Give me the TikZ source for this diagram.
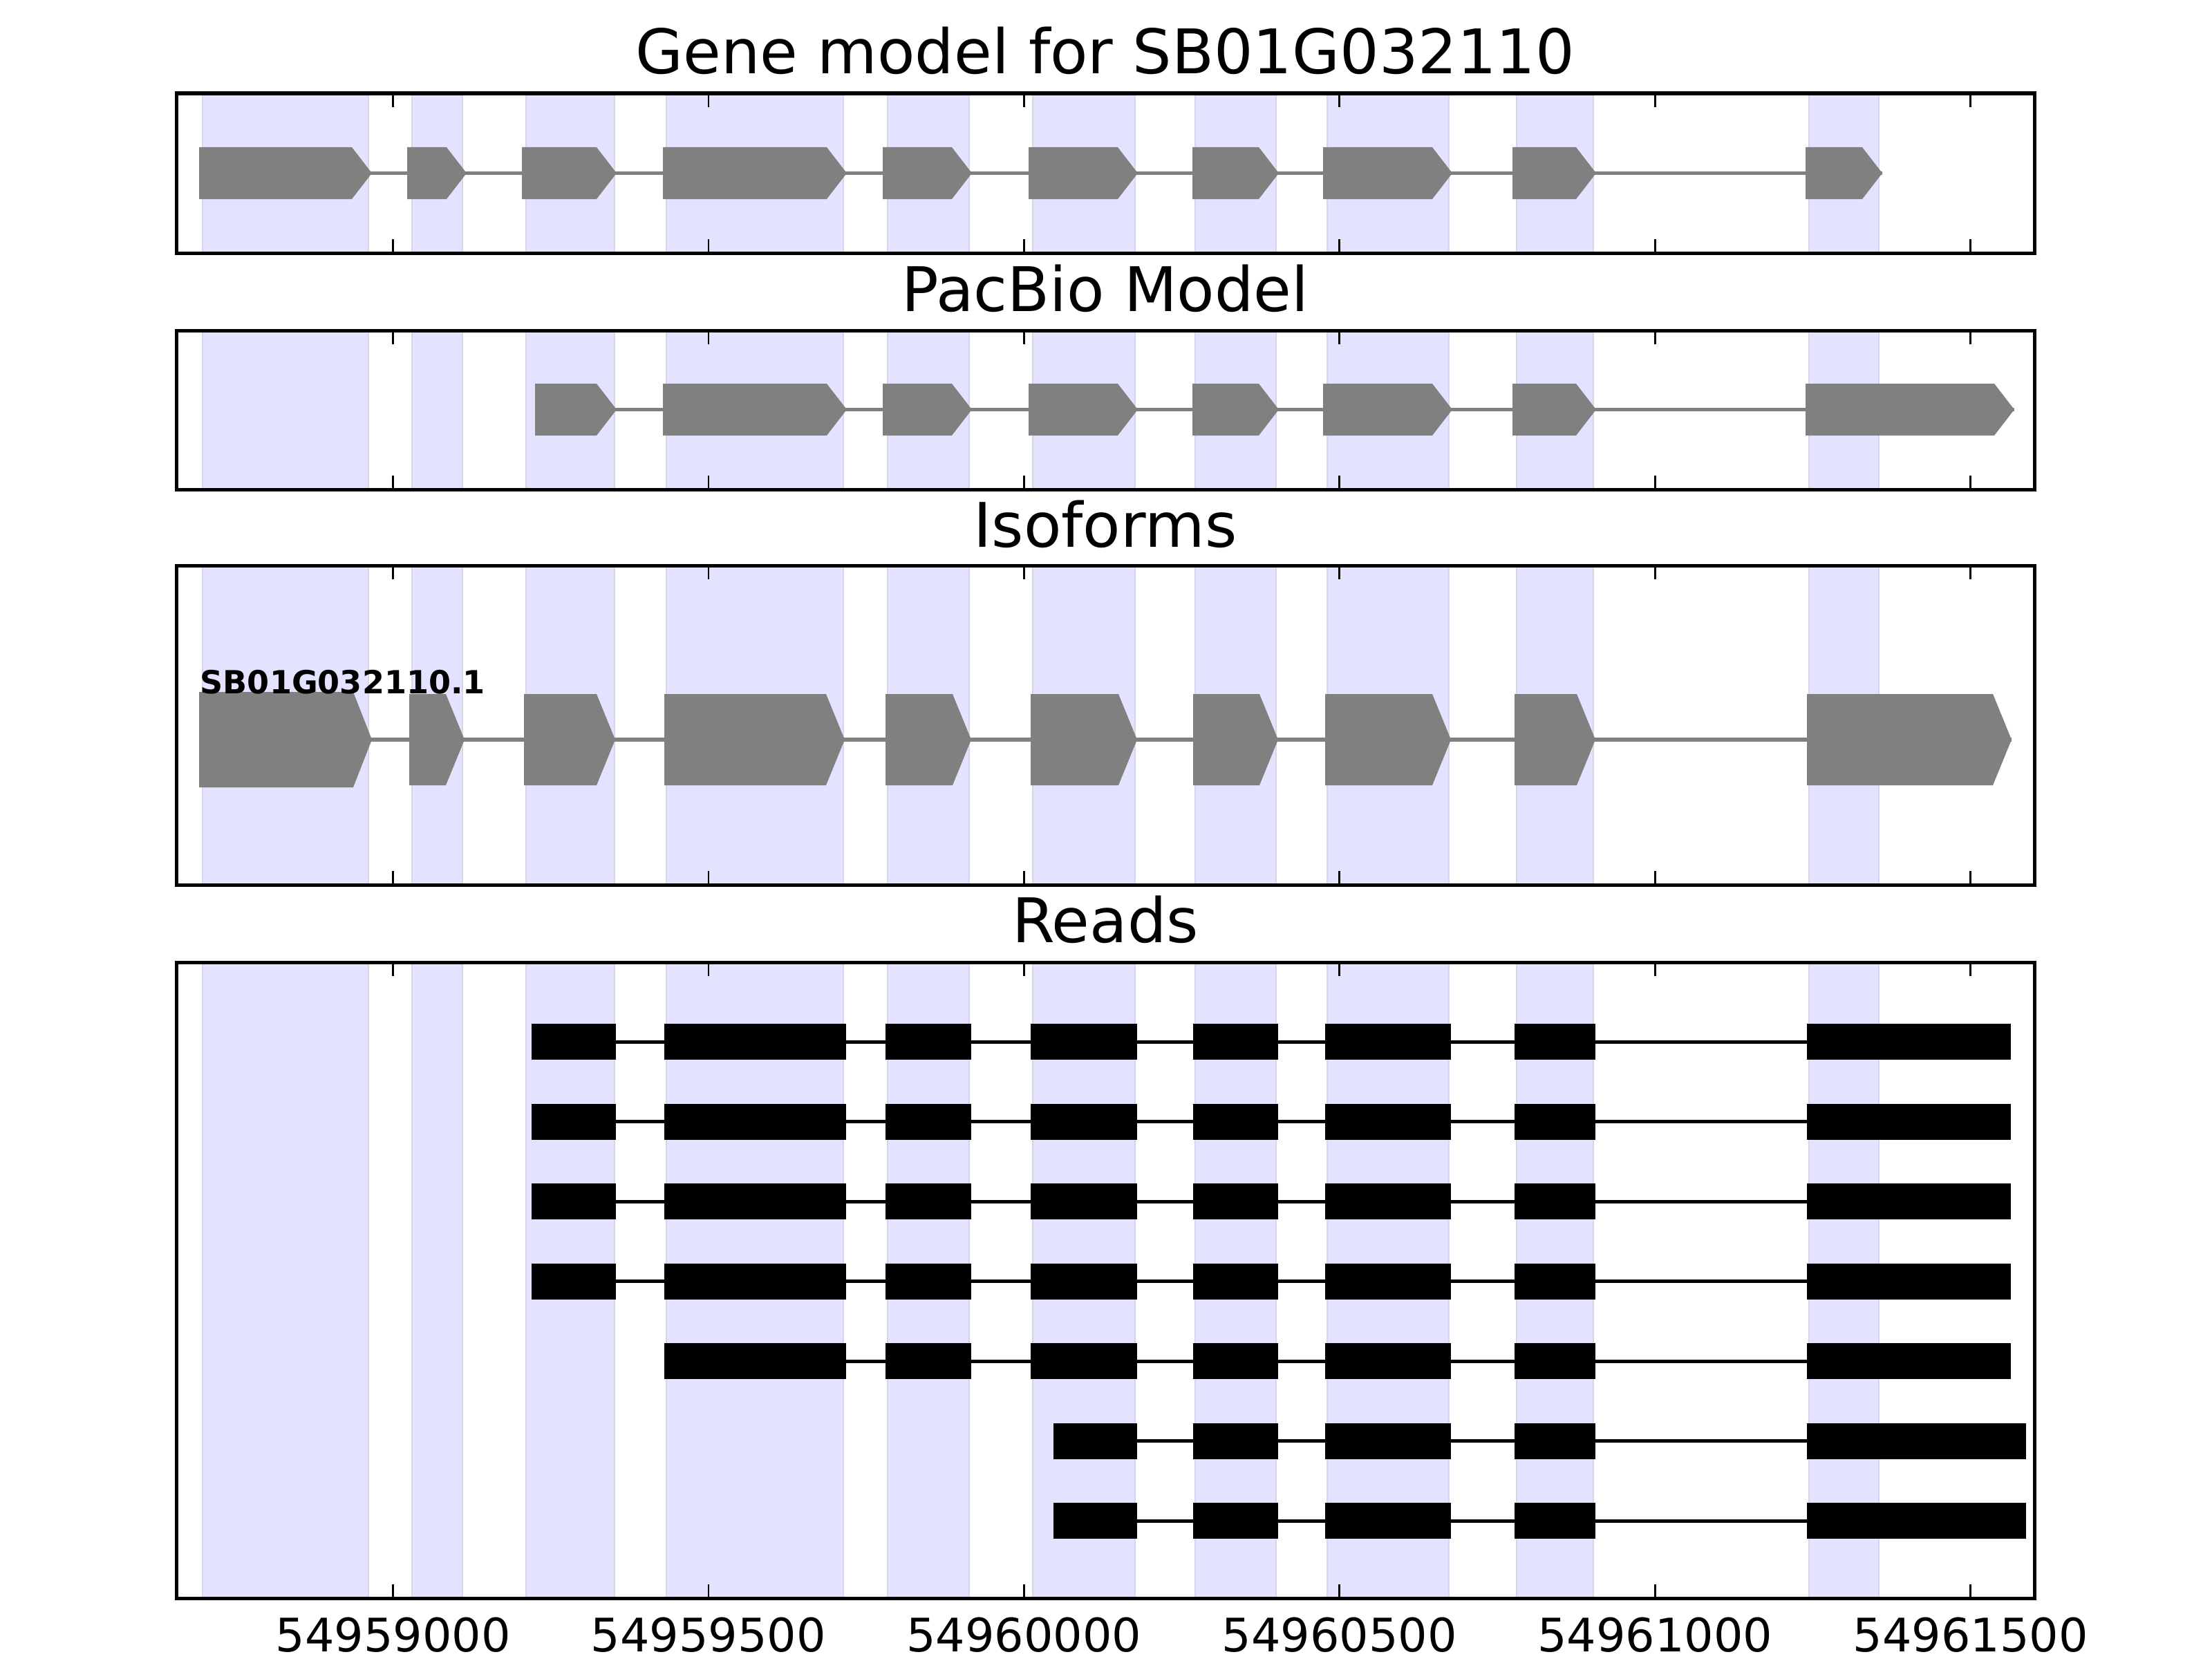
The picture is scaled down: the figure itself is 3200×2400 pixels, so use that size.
\documentclass[tikz,border=0pt]{standalone}
\usepackage{fontspec}
\setmainfont{DejaVu Sans}
\usepackage{tikz}
\usetikzlibrary{calc}
\definecolor{bandblue}{RGB}{227,227,255}
\definecolor{bandedge}{RGB}{213,213,235}
\definecolor{exongray}{RGB}{128,128,128}
\def\panelL{255}
\def\panelR{2943}
\def\midX{1599}
\def\tickLen{20}

\begin{document}
\begin{tikzpicture}[x=0.01cm,y=-0.01cm]
    \tikzstyle{frame}=[draw=black,line width=0.05cm]
    \tikzstyle{band}=[fill=bandblue,draw=bandedge,line width=0.025cm]
    \tikzstyle{tick}=[draw=black,line width=0.028cm]
    \tikzstyle{exon}=[fill=exongray]
    \tikzstyle{intron}=[draw=exongray,line width=0.055cm]
    \tikzstyle{read exon}=[fill=black]
    \tikzstyle{read intron}=[draw=black,line width=0.05cm]
    \tikzstyle{title}=[anchor=base,inner sep=0pt,font=\fontsize{25.3}{30}\selectfont]
    \tikzstyle{ticklabel}=[anchor=base,inner sep=0pt,font=\fontsize{19}{23}\selectfont]
    \tikzstyle{isolabel}=[anchor=base west,inner sep=0pt,font=\fontsize{13.1}{15}\selectfont\bfseries]

    \useasboundingbox (0,0) rectangle (3200,2400);

    % Draw the exon bands in every panel
    \foreach \yt / \yb in {135/366, 478/708, 818/1280, 1392/2312}
        \foreach \a / \b in {293/533, 596/669, 761/889, 964/1220, 1284/1402, 1494/1642, 1729/1846, 1920/2096, 2194/2305, 2617/2718}
            \path[band] (\a,\yt) rectangle (\b,\yb);

    % Draw the gene model
    \coordinate (G-start) at (288,250.5);
    \coordinate (G-end) at (2723,250.5);
    \draw[intron] (G-start) -- (G-end);
    \foreach \s / \e in {288/538, 589/675, 755/892, 959/1225, 1277/1406, 1488/1646, 1725/1850, 1914/2101, 2188/2309, 2612/2723}
        \fill[exon] (\s,213) -- (\e-29,213) -- (\e,250.5) -- (\e-29,288) -- (\s,288) -- cycle;

    % Draw the PacBio model
    \coordinate (P-start) at (774,592.5);
    \coordinate (P-end) at (2914,592.5);
    \draw[intron] (P-start) -- (P-end);
    \foreach \s / \e in {774/892, 959/1225, 1277/1406, 1488/1646, 1725/1850, 1914/2101, 2188/2309, 2612/2914}
        \fill[exon] (\s,555) -- (\e-29,555) -- (\e,592.5) -- (\e-29,630) -- (\s,630) -- cycle;

    % Draw the isoform
    \coordinate (I-start) at (288,1070);
    \coordinate (I-end) at (2910,1070);
    \draw[intron] (I-start) -- (I-end);
    \fill[exon] (288,1001) -- (511,1001) -- (538,1070) -- (511,1139) -- (288,1139) -- cycle;
    \foreach \s / \e in {592/672, 758/890, 961/1222, 1281/1405, 1491/1645, 1726/1849, 1917/2099, 2191/2308, 2614/2910}
        \fill[exon] (\s,1004) -- (\e-27,1004) -- (\e,1070) -- (\e-27,1136) -- (\s,1136) -- cycle;
    \node[isolabel] (iso-name) at (289,1003) {SB01G032110.1};

    % Draw the reads
    \foreach \n / \y in {1/1507, 2/1622.5, 3/1738, 4/1853.5} {
        \coordinate (R\n-start) at (769,\y);
        \coordinate (R\n-end) at (2909,\y);
        \draw[read intron] (R\n-start) -- (R\n-end);
        \foreach \s / \e in {769/891, 961/1224, 1281/1405, 1491/1645, 1726/1849, 1917/2099, 2191/2308, 2614/2909}
            \fill[read exon] (\s,\y-26) rectangle (\e,\y+26);
    }
    \coordinate (R5-start) at (961,1969);
    \coordinate (R5-end) at (2909,1969);
    \draw[read intron] (R5-start) -- (R5-end);
    \foreach \s / \e in {961/1224, 1281/1405, 1491/1645, 1726/1849, 1917/2099, 2191/2308, 2614/2909}
        \fill[read exon] (\s,1943) rectangle (\e,1995);
    \foreach \n / \y in {6/2084.5, 7/2200} {
        \coordinate (R\n-start) at (1524,\y);
        \coordinate (R\n-end) at (2931,\y);
        \draw[read intron] (R\n-start) -- (R\n-end);
        \foreach \s / \e in {1524/1645, 1726/1849, 1917/2099, 2191/2308, 2614/2931}
            \fill[read exon] (\s,\y-26) rectangle (\e,\y+26);
    }

    % Draw the frames and ticks
    \foreach \yt / \yb in {135/366, 478/708, 818/1280, 1392/2312} {
        \foreach \x in {568.6, 1025, 1481.4, 1937.8, 2394.2, 2850.6} {
            \draw[tick] (\x,\yt) -- ++(0,\tickLen);
            \draw[tick] (\x,\yb) -- ++(0,-\tickLen);
        }
        \draw[frame] (\panelL,\yt) rectangle (\panelR,\yb);
    }

    % Titles
    \node[title] (T-gene) at (\midX,107) {Gene model for SB01G032110};
    \node[title] (T-pacbio) at (\midX,450) {PacBio Model};
    \node[title] (T-iso) at (\midX,791) {Isoforms};
    \node[title] (T-reads) at (\midX,1363) {Reads};

    % Axis labels
    \foreach \x / \lab in {568.6/54959000, 1025/54959500, 1481.4/54960000, 1937.8/54960500, 2394.2/54961000, 2850.6/54961500}
        \node[ticklabel] (L-\lab) at (\x,2389) {\lab};
\end{tikzpicture}
\end{document}
